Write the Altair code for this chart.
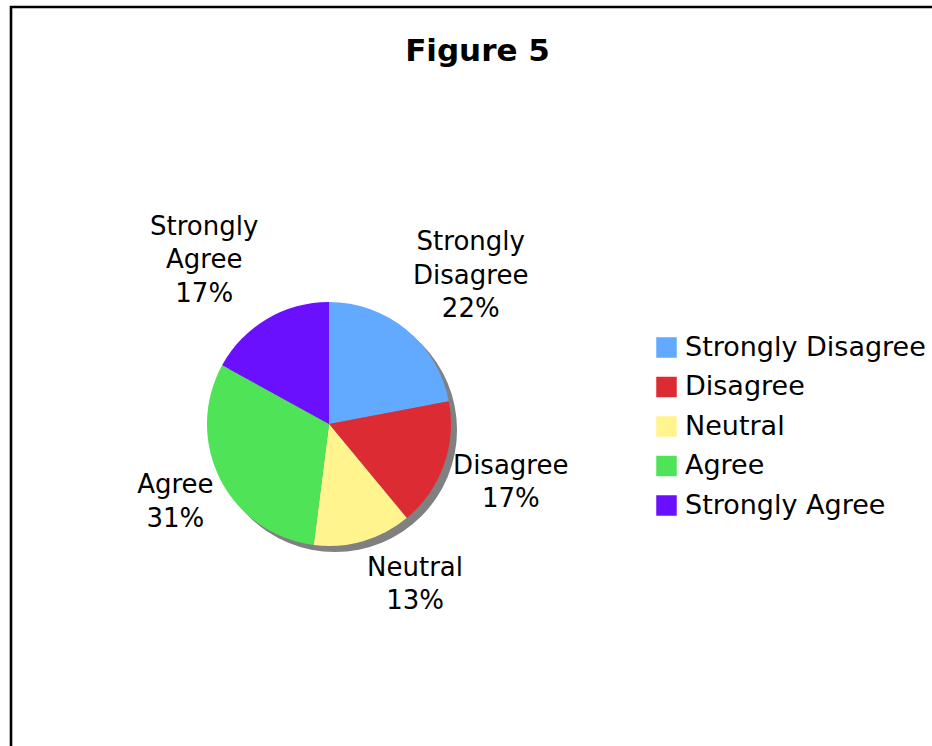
import math

import altair as alt
import pandas as pd

# Survey responses (share of respondents, %)
categories = ["Strongly Disagree", "Disagree", "Neutral", "Agree", "Strongly Agree"]
percents = [22, 17, 13, 31, 17]
colors = ["#62AAFF", "#DD2B33", "#FFF48D", "#4FE358", "#6A10FF"]

# Canvas and pie geometry (view coordinates)
PAD_LEFT, PAD_TOP = 11, 7
W, H = 932 - PAD_LEFT, 746 - PAD_TOP
CX, CY = 318, 417
R = 122
SHADOW = 6
FONT = "DejaVu Sans"
LABEL_SIZE = 26
LINE_H = 33.5
CHAR_W = 14.4


def clamp(v):
    return max(-1.0, min(1.0, v))


# Build the slice table and place each data label just outside its slice
rows = []
start = 0.0
for i, (cat, pct) in enumerate(zip(categories, percents)):
    mid = math.radians((start + pct / 2) * 3.6)
    start += pct
    lines = cat.split(" ") + [f"{pct}%"]
    w = max(len(s) for s in lines) * CHAR_W
    h = len(lines) * LINE_H
    px = CX + (R + 10) * math.sin(mid)
    py = CY - (R + 10) * math.cos(mid)
    lx = px + clamp(3.5 * math.sin(mid)) * w / 2
    ly = py - clamp(1.2 * math.cos(mid)) * h / 2
    # multi-line text is anchored on its first line
    ly_first = ly - (len(lines) - 1) * LINE_H / 2
    rows.append({"category": cat, "percent": pct, "order": i,
                 "lines": lines, "lx": lx, "ly": ly_first})
df = pd.DataFrame(rows)

color_scale = alt.Scale(domain=categories, range=colors)

base = alt.Chart(df)

frame = alt.Chart(alt.Data(values=[{}])).mark_rect(
    fillOpacity=0, stroke="black", strokeWidth=2.6
).encode(
    x=alt.value(0), y=alt.value(0), x2=alt.value(W + 40), y2=alt.value(H + 40)
)

shadow = alt.Chart(alt.Data(values=[{}])).mark_arc(
    radius=R, theta=0, theta2=2 * math.pi, color="#808080"
).encode(x=alt.value(CX + SHADOW), y=alt.value(CY + SHADOW))

pie = base.mark_arc(radius=R).encode(
    theta=alt.Theta("percent:Q", stack=True),
    order=alt.Order("order:Q"),
    color=alt.Color(
        "category:N",
        scale=color_scale,
        sort=categories,
        legend=alt.Legend(
            title=None,
            orient="none",
            legendX=642,
            legendY=327,
            symbolType="square",
            symbolSize=420,
            symbolStrokeWidth=0,
            labelFont=FONT,
            labelFontSize=27,
            labelColor="black",
            labelLimit=400,
            labelOffset=5,
            rowPadding=11.5,
            padding=0,
        ),
    ),
    x=alt.value(CX),
    y=alt.value(CY),
)

labels = base.mark_text(
    font=FONT, fontSize=LABEL_SIZE, color="black", align="center",
    baseline="middle", lineHeight=LINE_H
).encode(
    x=alt.X("lx:Q", scale=None),
    y=alt.Y("ly:Q", scale=None),
    text="lines",
)

chart = alt.layer(frame, shadow, pie, labels).properties(
    width=W,
    height=H,
    title=alt.TitleParams(
        "Figure 5",
        font=FONT,
        fontSize=31,
        fontWeight="bold",
        color="black",
        anchor="middle",
        baseline="alphabetic",
        offset=-86,
        dx=6,
    ),
    autosize=alt.AutoSizeParams(type="none"),
    padding={"left": PAD_LEFT, "top": PAD_TOP, "right": 0, "bottom": 0},
).configure_view(stroke=None).configure(background="white")

chart.save("out.html", embed_options={"renderer": "svg", "actions": False})
